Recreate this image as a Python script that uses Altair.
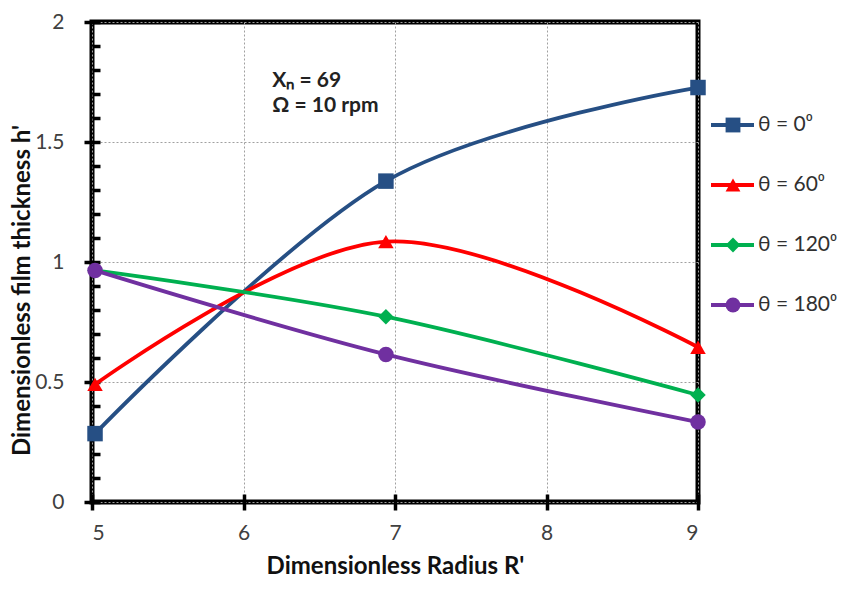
import altair as alt
import pandas as pd

# ---- data ----
series = ["θ = 0⁰", "θ = 60⁰", "θ = 120⁰", "θ = 180⁰"]
radius = [5.02, 6.94, 9.0]
h_0 = [0.285, 1.337, 1.727]
h_60 = [0.49, 1.085, 0.645]
h_120 = [0.965, 0.772, 0.446]
h_180 = [0.965, 0.615, 0.333]
colors = ["#264F84", "#FF0000", "#00B050", "#7030A0"]
shapes = ["square", "triangle-up", "diamond", "circle"]
x_ticks = [5, 5.5, 6, 6.5, 7, 7.5, 8, 8.5, 9]
x_major = [5, 6, 7, 8, 9]
y_ticks = [round(i * 0.1, 1) for i in range(21)]
y_major = [0, 0.5, 1, 1.5, 2]
notes = ["Xₙ = 69", "Ω = 10 rpm"]
note_x = [6.19, 6.19]
note_y = [1.755, 1.648]

rows = []
for name, vals in zip(series, [h_0, h_60, h_120, h_180]):
    for r, h in zip(radius, vals):
        rows.append({"series": name, "r": r, "h": h})
df = pd.DataFrame(rows)
notes_df = pd.DataFrame({"t": notes, "x": note_x, "y": note_y})
leg_df = pd.DataFrame({"series": series})

FONT = "Lato"
LABEL_COLOR = "#404040"


def is_major(vals):
    return " || ".join(f"abs(datum.value - {v}) < 0.0001" for v in vals)


def make_axis(values, major, fmt, title, label_pad, title_pad, title_size, **kw):
    test = is_major(major)
    return alt.Axis(
        values=values,
        tickCount=len(values),
        labelExpr=f"({test}) ? datum.label : ''",
        format=fmt,
        labelOverlap=False,
        grid=True,
        gridDash=[2, 2],
        gridColor="#a0a0a0",
        gridWidth=1,
        gridOpacity={"condition": {"test": test, "value": 1}, "value": 0},
        domain=False,
        tickColor="black",
        tickWidth=3.5,
        tickSize={"condition": {"test": test, "value": 16}, "value": 8},
        offset=-8,
        labelFont=FONT,
        labelFontSize=21,
        labelColor=LABEL_COLOR,
        labelPadding=label_pad,
        title=title,
        titleFont=FONT,
        titleFontSize=title_size,
        titleFontWeight="bold",
        titleColor="#111111",
        titlePadding=title_pad,
        **kw,
    )


x_axis = make_axis(x_ticks, x_major, "d", "Dimensionless Radius R'", 12, 11, 24)
y_axis = make_axis(y_ticks, y_major, "~g", "Dimensionless film thickness  h'", 20, 0, 24, titleY=268)

color_scale = alt.Scale(domain=series, range=colors)
shape_scale = alt.Scale(domain=series, range=shapes)

base = alt.Chart(df).encode(
    x=alt.X("r:Q", scale=alt.Scale(domain=[5, 9], nice=False, zero=False), axis=x_axis),
    y=alt.Y("h:Q", scale=alt.Scale(domain=[0, 2], nice=False), axis=y_axis),
    color=alt.Color("series:N", scale=color_scale, legend=None),
)

lines = base.mark_line(interpolate="cardinal", strokeWidth=3.8)
points = base.mark_point(filled=True, opacity=1, size=240).encode(
    shape=alt.Shape("series:N", scale=shape_scale, legend=None)
)
text = alt.Chart(notes_df).mark_text(
    align="left", baseline="middle", font=FONT, fontSize=21, fontWeight="bold", color="#222222"
).encode(x="x:Q", y="y:Q", text="t:N")

main = alt.layer(lines, points, text).properties(
    width=606, height=480, view=alt.ViewBackground(stroke="black", strokeWidth=5)
)

# ---- legend panel ----
leg_base = alt.Chart(leg_df).encode(
    y=alt.Y("series:N", sort=series, axis=None,
            scale=alt.Scale(type="point", range=[103, 283], padding=0)),
    color=alt.Color("series:N", scale=color_scale, legend=None),
)
leg_line = leg_base.mark_rule(strokeWidth=4).encode(x=alt.value(-3), x2=alt.value(40))
leg_pt = leg_base.mark_point(filled=True, opacity=1, size=220).encode(
    x=alt.value(19), shape=alt.Shape("series:N", scale=shape_scale, legend=None)
)
leg_txt = leg_base.mark_text(
    align="left", baseline="middle", font=FONT, fontSize=21, color="#303030"
).encode(x=alt.value(44), text="series:N", color=alt.value("#303030"))

legend = alt.layer(leg_line, leg_pt, leg_txt).properties(
    width=110, height=480, view=alt.ViewBackground(strokeWidth=0, stroke="transparent")
)

chart = alt.hconcat(main, legend, spacing=0).properties(
    padding={"left": 0, "top": 0, "right": 0, "bottom": -4},
    background="white",
)

chart.save("out.html", embed_options={"renderer": "svg", "actions": False})
